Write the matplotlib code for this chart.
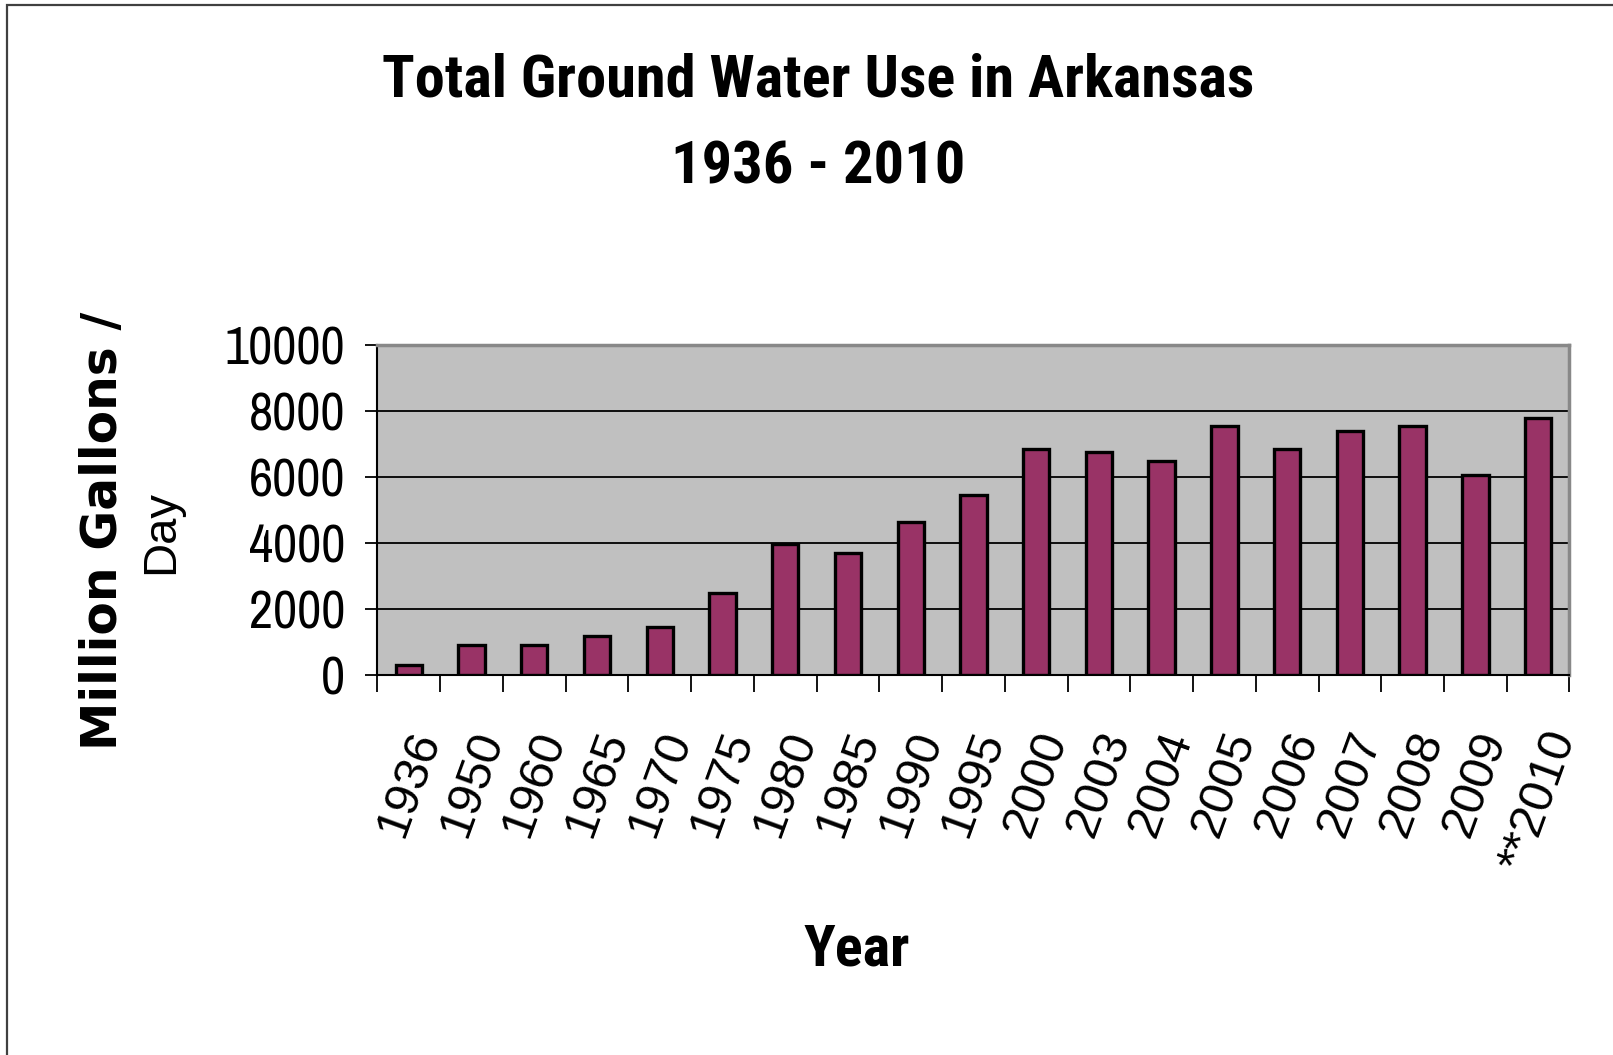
import matplotlib
matplotlib.use("Agg")
import matplotlib.pyplot as plt
from matplotlib.patches import Rectangle
import numpy as np

# data (million gallons / day)
years = ["1936", "1950", "1960", "1965", "1970", "1975", "1980", "1985", "1990",
         "1995", "2000", "2003", "2004", "2005", "2006", "2007", "2008", "2009", "**2010"]
use = [300, 920, 920, 1180, 1450, 2490, 3970, 3710, 4640,
       5450, 6850, 6750, 6490, 7540, 6850, 7390, 7540, 6060, 7800]

narrow_bold = ["Roboto Condensed", "Fira Sans Condensed", "Liberation Sans", "DejaVu Sans"]
narrow = ["Archivo Narrow", "Roboto Condensed", "Liberation Sans", "DejaVu Sans"]
regular = ["Liberation Sans", "DejaVu Sans"]

fig = plt.figure(figsize=(16.13, 10.55), dpi=100)
ax = fig.add_axes([0.234, 0.360, 0.739, 0.313])

x = np.arange(len(years))
ax.bar(x, use, width=0.42, color="#993366", edgecolor="black", linewidth=2.4, zorder=3)

ax.set_facecolor("#C0C0C0")
ax.set_xlim(-0.5, len(years) - 0.5)
ax.set_ylim(0, 10000)
ax.set_yticks(np.arange(0, 10001, 2000))
ax.yaxis.grid(True, color="black", linewidth=1.3, zorder=1)
ax.set_axisbelow(True)

for side in ["top", "right"]:
    ax.spines[side].set_color("#888888")
    ax.spines[side].set_linewidth(2.5)
for side in ["left", "bottom"]:
    ax.spines[side].set_color("black")
    ax.spines[side].set_linewidth(1.5)

ax.tick_params(axis="y", direction="out", length=9, width=1.3, pad=14)
for t in ax.get_yticklabels():
    t.set_family(narrow)
    t.set_fontsize(38)

# category labels sit between the boundary ticks
ax.set_xticks(x)
ax.set_xticks(np.arange(-0.5, len(years)), minor=True)
ax.tick_params(axis="x", which="major", length=0, pad=36)
ax.tick_params(axis="x", which="minor", direction="out", length=12, width=1.3)
ax.set_xticklabels(years, rotation=70, ha="center", va="top",
                   family=regular, fontsize=35)

fig.text(0.507, 0.909, "Total Ground Water Use in Arkansas", ha="center", va="baseline",
         family=narrow_bold, fontweight="bold", fontsize=43.5)
fig.text(0.507, 0.826, "1936 - 2010", ha="center", va="baseline",
         family=narrow_bold, fontweight="bold", fontsize=43.5)
fig.text(0.531, 0.0853, "Year", ha="center", va="baseline",
         family=narrow_bold, fontweight="bold", fontsize=42)

fig.text(0.0638, 0.497, "Million Gallons /", rotation=90, ha="center", va="center",
         family="DejaVu Sans", fontweight="bold", fontsize=35)
fig.text(0.100, 0.496, "Day", rotation=90, ha="center", va="center",
         family=regular, fontsize=34)

# outer frame of the chart area
fig.patches.append(Rectangle((0.0043, -0.05), 1.05, 1.0453, transform=fig.transFigure,
                             fill=False, edgecolor="#404040", linewidth=1.6))

fig.savefig("out.png", dpi=100)
